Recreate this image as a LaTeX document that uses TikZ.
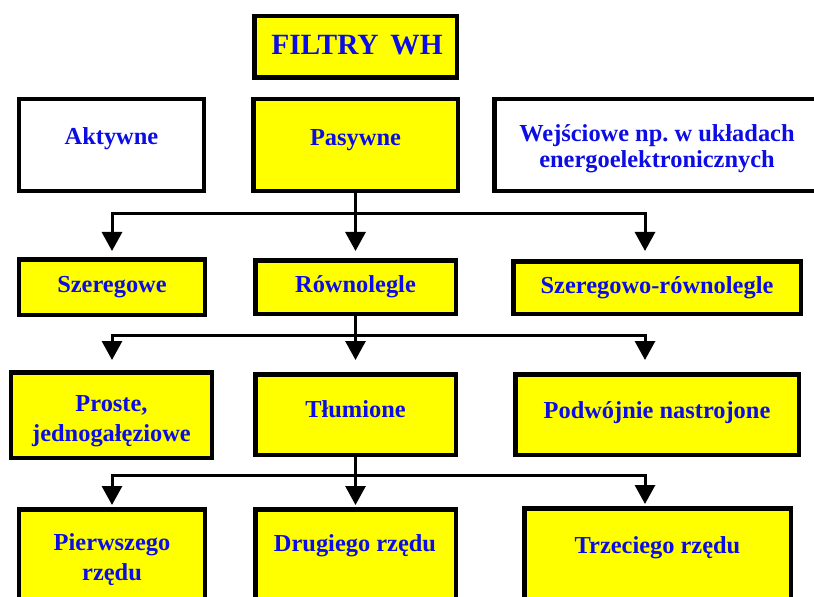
\documentclass[tikz,border=0pt]{standalone}
\usepackage{fontspec}
\setmainfont{Liberation Serif}
\usetikzlibrary{arrows.meta}
\definecolor{boxyellow}{RGB}{255,255,0}
\definecolor{txtblue}{RGB}{12,12,228}
\frenchspacing
\begin{document}
\begin{tikzpicture}[x=1bp,y=-1bp,
  box/.style={draw=black, line width=4.5bp, fill=boxyellow, rectangle, inner sep=0pt},
  wbox/.style={box, fill=white},
  lbl/.style={text=txtblue, font=\bfseries\fontsize{24.5}{30}\selectfont, align=center, inner sep=0pt, anchor=base},
  conn/.style={line width=3bp, draw=black, line cap=rect},
  arr/.style={line width=3bp, draw=black, -{Triangle[width=20bp,length=19bp]}},
]
\useasboundingbox (0,0) rectangle (814,597);
\clip (0,0) rectangle (814,597);

% row 0
\node[box, minimum width=202.5bp, minimum height=61.5bp] (fil) at (355.5,47) {};
\node[lbl, font=\bfseries\fontsize{29.5}{34}\selectfont] (filt) at (357,55) {FILTRY\hspace{0.4em}WH};

% row 1
\node[wbox, minimum width=184.5bp, minimum height=91.5bp] (akt) at (111.5,145) {};
\node[lbl] (aktt) at (111.5,145) {Aktywne};
\node[box, minimum width=204.5bp, minimum height=91.5bp] (pas) at (355.5,145) {};
\node[lbl] (past) at (355.5,146) {Pasywne};
\node[wbox, minimum width=333.5bp, minimum height=91.5bp] (wej) at (661,145) {};
\node[lbl, font=\bfseries\fontsize{24.5}{27}\selectfont] (wejt) at (657,168) {Wejściowe np. w układach\\energoelektronicznych};

% row 2
\node[box, minimum width=185.5bp, minimum height=55.5bp] (sze) at (112,287) {};
\node[lbl] (szet) at (112,292) {Szeregowe};
\node[box, minimum width=200.5bp, minimum height=53.5bp] (row) at (355.5,287) {};
\node[lbl] (rowt) at (355.5,292.5) {Równolegle};
\node[box, minimum width=287.5bp, minimum height=52.5bp] (szr) at (657,287.5) {};
\node[lbl] (szrt) at (657,293) {Szeregowo-równolegle};

% row 3
\node[box, minimum width=200.5bp, minimum height=85.5bp] (pro) at (111.5,415) {};
\node[lbl] (prot) at (111.5,441) {Proste,\\jednogałęziowe};
\node[box, minimum width=200.5bp, minimum height=80.5bp] (tlu) at (355.5,414.5) {};
\node[lbl] (tlut) at (355.5,417) {Tłumione};
\node[box, minimum width=283.5bp, minimum height=80.5bp] (pod) at (657,414.5) {};
\node[lbl] (podt) at (657,418) {Podwójnie nastrojone};

% row 4
\node[box, minimum width=185.5bp, minimum height=108.5bp] (pie) at (112,563.5) {};
\node[lbl] (piet) at (112,580) {Pierwszego\\rzędu};
\node[box, minimum width=200.5bp, minimum height=108.5bp] (dru) at (355.5,563.5) {};
\node[lbl] (drut) at (355,551) {Drugiego rzędu};
\node[box, minimum width=266.5bp, minimum height=109.5bp] (trz) at (657.5,563) {};
\node[lbl] (trzt) at (657.5,553) {Trzeciego rzędu};

% junctions
\coordinate (j1) at (355.5,214);
\coordinate (j1l) at (112,214);
\coordinate (j1r) at (645,214);
\coordinate (j2) at (355.5,335);
\coordinate (j2l) at (112,335);
\coordinate (j2r) at (645,335);
\coordinate (j3) at (355.5,475);
\coordinate (j3l) at (112,475);
\coordinate (j3r) at (645,475);

% connectors level 1
\draw[conn] (pas.south) -- (j1);
\draw[conn] (j1l) -- (j1r);
\draw[arr, shorten >=6bp] (j1l) -- (j1l |- sze.north);
\draw[arr, shorten >=7bp] (j1) -- (j1 |- row.north);
\draw[arr, shorten >=8bp] (j1r) -- (j1r |- szr.north);

% connectors level 2
\draw[conn] (row.south) -- (j2);
\draw[conn] (j2l) -- (j2r);
\draw[arr, shorten >=10bp] (j2l) -- (j2l |- pro.north);
\draw[arr, shorten >=12bp] (j2) -- (j2 |- tlu.north);
\draw[arr, shorten >=12bp] (j2r) -- (j2r |- pod.north);

% connectors level 3
\draw[conn] (tlu.south) -- (j3);
\draw[conn] (j3l) -- (j3r);
\draw[arr, shorten >=2bp] (j3l) -- (j3l |- pie.north);
\draw[arr, shorten >=2bp] (j3) -- (j3 |- dru.north);
\draw[arr, shorten >=2bp] (j3r) -- (j3r |- trz.north);
\end{tikzpicture}
\end{document}
